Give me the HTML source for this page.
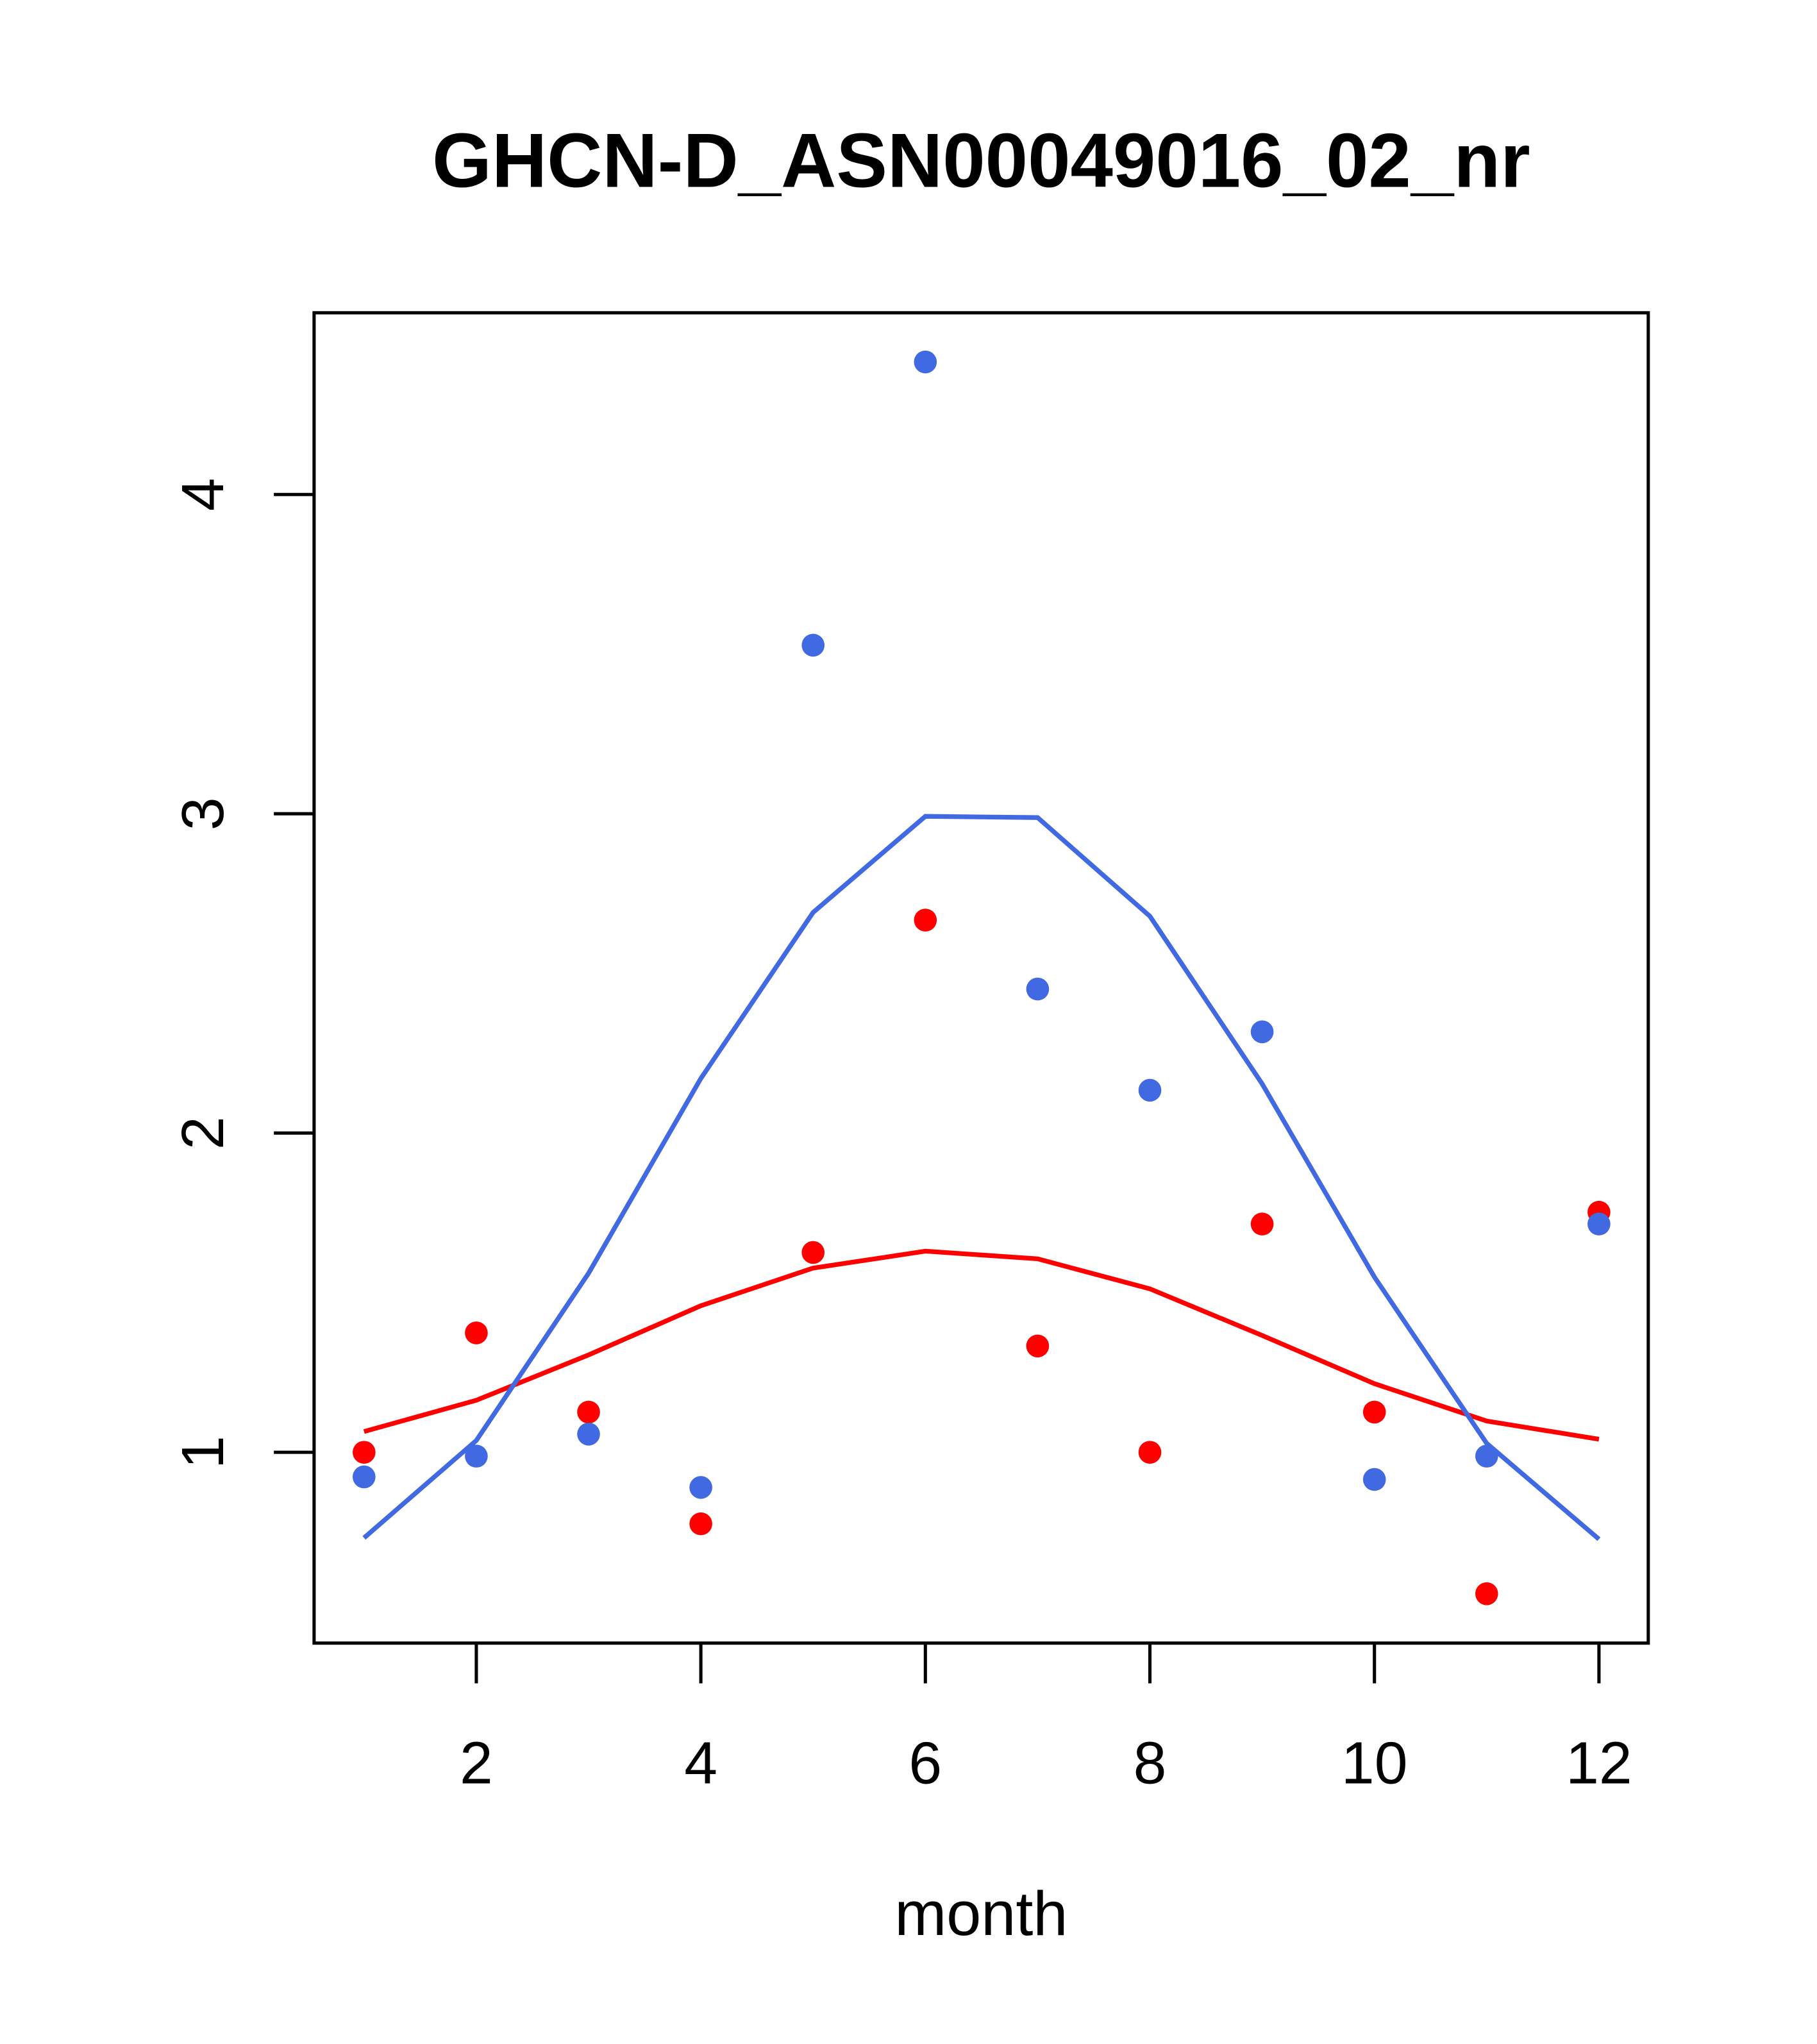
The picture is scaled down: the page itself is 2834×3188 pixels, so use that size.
<!DOCTYPE html>
<html><head><meta charset="utf-8"><style>html,body{margin:0;padding:0;background:#fff}svg{display:block}text{font-family:"Liberation Sans",sans-serif}</style></head>
<body>
<svg id="chart" width="2834" height="3188" viewBox="0 0 1400 1574.9" xmlns="http://www.w3.org/2000/svg">
<text x="756" y="144" font-size="59" font-weight="bold" text-anchor="middle">GHCN-D_ASN00049016_02_nr</text>
<rect x="242" y="241" width="1028" height="1025" fill="none" stroke="#000" stroke-width="2.5"/>
<g id="axes"></g>
<g id="series"></g>
<text x="756" y="1491" font-size="48" text-anchor="middle">month</text>
</svg>
<script>
const months=[1,2,3,4,5,6,7,8,9,10,11,12];
const bluePoints=[0.923,0.988,1.057,0.89,3.528,4.415,2.451,2.134,2.317,0.915,0.988,1.715];
const redPoints=[1.0,1.374,1.126,0.776,1.626,2.667,1.333,1.0,1.715,1.126,0.557,1.752];
const blueLine=[0.732,1.037,1.561,2.171,2.691,2.992,2.988,2.679,2.154,1.549,1.028,0.728];
const redLine=[1.065,1.163,1.305,1.459,1.577,1.630,1.606,1.512,1.366,1.215,1.098,1.041];
const xTicks=[2,4,6,8,10,12];
const yTicks=[1,2,3,4];
const NS="http://www.w3.org/2000/svg";
const xs=m=>367+(m-2)*86.5;
const ys=v=>1119-(v-1)*246;
function mk(tag,attrs,parent){const e=document.createElementNS(NS,tag);for(const k in attrs)e.setAttribute(k,attrs[k]);parent.appendChild(e);return e;}
const ax=document.getElementById('axes');
xTicks.forEach(t=>{
 const l=mk('line',{x1:xs(t),x2:xs(t),y1:1266,y2:1297,stroke:'#000','stroke-width':2.5},ax);
 
 
 const tx=mk('text',{x:xs(t),y:1374,'font-size':46,'text-anchor':'middle'},ax);tx.textContent=t;
 
 
});
yTicks.forEach(t=>{
 const l=mk('line',{x1:211,x2:242,y1:ys(t),y2:ys(t),stroke:'#000','stroke-width':2.5},ax);
 
 
 const tx=mk('text',{x:0,y:0,'font-size':46,'text-anchor':'middle',transform:`translate(172,${ys(t)}) rotate(-90)`},ax);tx.textContent=t;
 
 
});
const sg=document.getElementById('series');
function line(vals,color,name){
 const p=mk('polyline',{points:months.map((m,i)=>xs(m)+','+ys(vals[i])).join(' '),fill:'none',stroke:color,'stroke-width':3.6},sg);
 
 
}
function pts(vals,color,name){
 months.forEach((m,i)=>{
  const c=mk('circle',{cx:xs(m),cy:ys(vals[i]),r:8.8,fill:color},sg);
  
  
 });
}
line(redLine,'#ff0000','red-smooth-line');
line(blueLine,'#4169e1','blue-smooth-line');
pts(redPoints,'#ff0000','red-point');
pts(bluePoints,'#4169e1','blue-point');
</script>
</body></html>
